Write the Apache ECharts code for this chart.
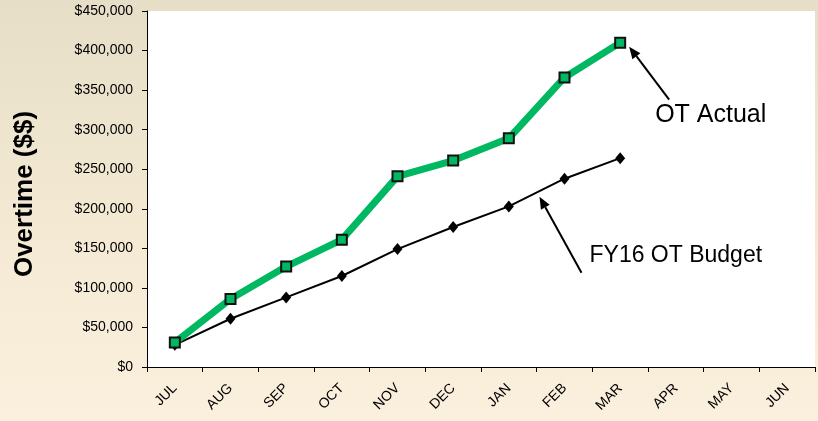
<!DOCTYPE html>
<html><head><meta charset="utf-8">
<script src="https://cdn.jsdelivr.net/npm/echarts@6/dist/echarts.min.js"></script>
<style>html,body{margin:0;padding:0;}#c{width:818px;height:421px;}</style>
</head><body><div id="c"></div>
<script>
const months = ['JUL','AUG','SEP','OCT','NOV','DEC','JAN','FEB','MAR','APR','MAY','JUN'];
const otActual = [31000, 86000, 127000, 161000, 241000, 261000, 289000, 366000, 410000];
const otBudget = [28000, 61000, 88000, 115000, 149000, 177000, 203000, 238000, 264000];
const yTicks = {min: 0, max: 450000, interval: 50000};
const yTitle = 'Overtime ($$)';

const chart = echarts.init(document.getElementById('c'));
const font = 'Liberation Sans, Arial, sans-serif';
chart.setOption({
  animation: false,
  backgroundColor: {type:'linear', x:0, y:0, x2:0, y2:1, colorStops:[{offset:0,color:'#e6dec6'},{offset:0.5,color:'#f3e9d3'},{offset:1,color:'#faf0dd'}]},
  grid: {left: 147, right: 3, top: 11, bottom: 54, show: true, backgroundColor: '#ffffff', borderWidth: 0},
  xAxis: {
    type: 'category', data: months, boundaryGap: true,
    axisLine: {lineStyle: {color: '#000', width: 1}},
    axisTick: {show: true, alignWithLabel: false, length: 5, lineStyle: {color: '#000'}},
    axisLabel: {rotate: 45, color: '#000', fontSize: 14, fontFamily: font, margin: 19, interval: 0},
    splitLine: {show: false}
  },
  yAxis: {
    type: 'value', min: yTicks.min, max: yTicks.max, interval: yTicks.interval,
    axisLine: {show: true, lineStyle: {color: '#000', width: 1}},
    axisTick: {show: true, length: 5, lineStyle: {color: '#000'}},
    axisLabel: {color: '#000', fontSize: 14, fontFamily: font, margin: 14,
      formatter: v => '$' + v.toLocaleString('en-US')},
    splitLine: {show: false}
  },
  series: [
    {name: 'FY16 OT Budget', type: 'line', data: otBudget, symbol: 'diamond', symbolSize: [10, 12],
      lineStyle: {color: '#000', width: 2}, itemStyle: {color: '#000'}, z: 2},
    {name: 'OT Actual', type: 'line', data: otActual, symbol: 'rect', symbolSize: 10,
      lineStyle: {color: '#00b862', width: 7}, itemStyle: {color: '#00b862', borderColor: '#111', borderWidth: 2}, z: 3}
  ]
});

function arrow(x1, y1, x2, y2) {
  const ang = Math.atan2(y2 - y1, x2 - x1);
  const L = 12, W = 5;
  const bx = x2 - L * Math.cos(ang), by = y2 - L * Math.sin(ang);
  const px = -Math.sin(ang) * W, py = Math.cos(ang) * W;
  return [
    {type: 'line', shape: {x1: x1, y1: y1, x2: bx, y2: by}, style: {stroke: '#000', lineWidth: 2}, z: 10},
    {type: 'polygon', shape: {points: [[x2, y2], [bx + px, by + py], [bx - px, by - py]]}, style: {fill: '#000'}, z: 10}
  ];
}
const pA = chart.convertToPixel({seriesIndex: 1}, [8, otActual[8]]);
const pB = chart.convertToPixel({seriesIndex: 0}, [7, otBudget[7]]);
const g = [];
g.push(...arrow(pA[0] + 49, pA[1] + 57, pA[0] + 9, pA[1] + 4));
g.push(...arrow(pB[0] + 17, pB[1] + 94, pB[0] - 25, pB[1] + 18));
g.push({type: 'text', x: pA[0] + 35, y: pA[1] + 72, style: {text: 'OT Actual', font: '25px ' + font, fill: '#000', verticalAlign: 'middle'}, z: 10});
g.push({type: 'text', x: pB[0] + 25, y: pB[1] + 77, style: {text: 'FY16 OT Budget', font: '23px ' + font, fill: '#000', verticalAlign: 'middle'}, z: 10});
g.push({type: 'text', x: 25, y: 194, rotation: Math.PI / 2, style: {text: yTitle, font: 'bold 26px ' + font, fill: '#000', align: 'center', verticalAlign: 'middle'}, z: 10});
chart.setOption({graphic: g});
</script>
</body></html>
